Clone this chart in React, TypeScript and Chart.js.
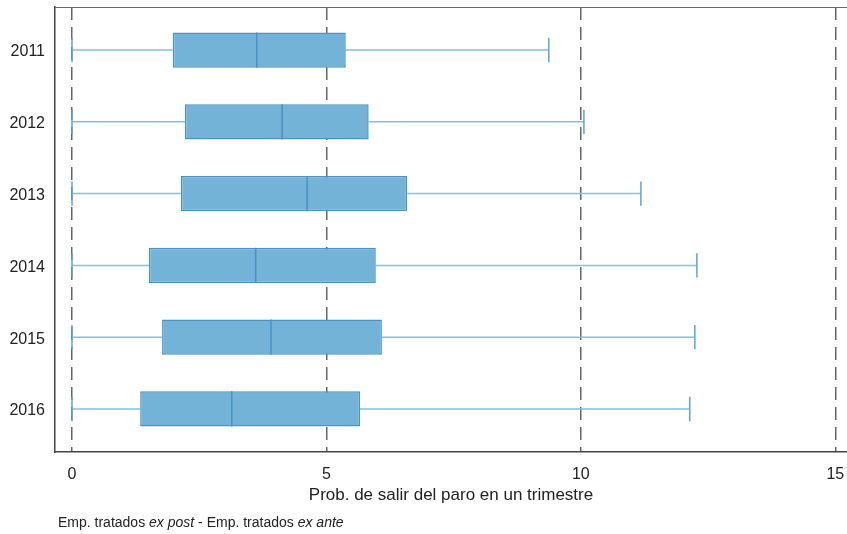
import React, { useEffect, useRef } from "react";
import { Chart, registerables } from "chart.js";

Chart.register(...registerables);

const years = ["2011", "2012", "2013", "2014", "2015", "2016"];
const whiskerLow = [0, 0, 0, 0, 0, 0];
const q1 = [1.98, 2.22, 2.14, 1.51, 1.77, 1.34];
const median = [3.63, 4.13, 4.62, 3.61, 3.91, 3.14];
const q3 = [5.38, 5.83, 6.59, 5.97, 6.09, 5.66];
const whiskerHigh = [9.37, 10.06, 11.18, 12.28, 12.24, 12.14];
const xTicks = [0, 5, 10, 15];
const xTitle = "Prob. de salir del paro en un trimestre";

const FONT = "'Liberation Sans', Arial, sans-serif";

const boxPlugin = {
  id: "boxExtras",
  beforeDatasetsDraw(chart: any) {
    const { ctx, scales } = chart;
    const xs = scales.x;
    const ys = scales.y;
    ctx.save();
    ctx.lineWidth = 1.5;
    years.forEach((_, i) => {
      const y = ys.getPixelForValue(i);
      const yT = ys.getPixelForValue(i - 0.17);
      const yB = ys.getPixelForValue(i + 0.17);
      const xl = xs.getPixelForValue(whiskerLow[i]);
      const xq1 = xs.getPixelForValue(q1[i]);
      const xq3 = xs.getPixelForValue(q3[i]);
      const xh = xs.getPixelForValue(whiskerHigh[i]);
      ctx.strokeStyle = "#86bfe0";
      ctx.beginPath();
      ctx.moveTo(xl, y);
      ctx.lineTo(xq1, y);
      ctx.moveTo(xq3, y);
      ctx.lineTo(xh, y);
      ctx.stroke();
      ctx.strokeStyle = "#5aa6d4";
      ctx.beginPath();
      ctx.moveTo(xl, yT);
      ctx.lineTo(xl, yB);
      ctx.moveTo(xh, yT);
      ctx.lineTo(xh, yB);
      ctx.stroke();
    });
    ctx.restore();
  },
  afterDatasetsDraw(chart: any) {
    const { ctx, scales, chartArea } = chart;
    const xs = scales.x;
    const ys = scales.y;
    ctx.save();
    ctx.strokeStyle = "#4a92c4";
    ctx.lineWidth = 1.5;
    years.forEach((_, i) => {
      const yT = ys.getPixelForValue(i - 0.245);
      const yB = ys.getPixelForValue(i + 0.245);
      const xm = xs.getPixelForValue(median[i]);
      ctx.beginPath();
      ctx.moveTo(xm, yT);
      ctx.lineTo(xm, yB);
      ctx.stroke();
    });
    // top frame line
    ctx.strokeStyle = "#666";
    ctx.lineWidth = 1.2;
    ctx.beginPath();
    ctx.moveTo(chartArea.left, chartArea.top + 0.5);
    ctx.lineTo(chartArea.right, chartArea.top + 0.5);
    ctx.stroke();
    ctx.restore();
  },
};

export default function App() {
  const ref = useRef<HTMLCanvasElement | null>(null);
  useEffect(() => {
    if (!ref.current) return;
    const chart = new Chart(ref.current, {
      type: "bar",
      data: {
        datasets: [
          {
            data: years.map((_, i) => ({ x: [q1[i], q3[i]], y: i })) as any,
            backgroundColor: "#73b3d7",
            borderColor: "#4a92c4",
            borderWidth: 1.5,
            borderSkipped: false,
            barPercentage: 0.49,
            categoryPercentage: 1,
          },
        ],
      },
      options: {
        indexAxis: "y",
        animation: false,
        responsive: false,
        maintainAspectRatio: false,
        events: [],
        layout: { padding: { top: 7, right: 0, left: 0, bottom: 28 } },
        plugins: {
          legend: { display: false },
          tooltip: { enabled: false },
        },
        scales: {
          x: {
            type: "linear",
            min: -0.334,
            max: 15.23,
            offset: false,
            afterBuildTicks: (scale: any) => {
              scale.ticks = xTicks.map((v) => ({ value: v }));
            },
            afterFit: (scale: any) => {
              scale.height = 54;
              scale.paddingLeft = 0;
              scale.paddingRight = 0;
            },
            grid: {
              display: true,
              color: "#666",
              lineWidth: 1.5,
              drawTicks: false,
              offset: false,
            },
            border: { display: true, color: "#444", width: 1.5, dash: [13, 7] },
            ticks: {
              padding: 13,
              color: "#222",
              font: { family: FONT, size: 16 },
              callback: (v: any) => String(v),
            },
            title: {
              display: true,
              text: xTitle,
              color: "#222",
              font: { family: FONT, size: 17 },
              padding: { top: 0, bottom: 0 },
            },
          },
          y: {
            type: "linear",
            min: -0.6,
            max: 5.6,
            reverse: true,
            offset: false,
            afterBuildTicks: (scale: any) => {
              scale.ticks = years.map((_, i) => ({ value: i }));
            },
            afterFit: (scale: any) => {
              scale.width = 55;
              scale.paddingTop = 0;
              scale.paddingBottom = 0;
            },
            grid: { display: false, drawTicks: false, offset: false },
            border: { display: true, color: "#444", width: 1.5 },
            ticks: {
              padding: 10,
              labelOffset: 2,
              color: "#222",
              font: { family: FONT, size: 16 },
              callback: (v: any) => years[v] ?? "",
            },
          },
        },
      } as any,
      plugins: [boxPlugin],
    });
    return () => chart.destroy();
  }, []);

  return (
    <div style={{ position: "absolute", left: 0, top: 0, width: 847, height: 534, background: "#fff" }}>
      <canvas ref={ref} width={847} height={534} style={{ display: "block" }} />
      <div
        style={{
          position: "absolute",
          left: 58,
          top: 514,
          fontFamily: FONT,
          fontSize: 14,
          color: "#222",
          whiteSpace: "nowrap",
        }}
      >
        Emp. tratados <i>ex post</i> - Emp. tratados <i>ex ante</i>
      </div>
    </div>
  );
}
